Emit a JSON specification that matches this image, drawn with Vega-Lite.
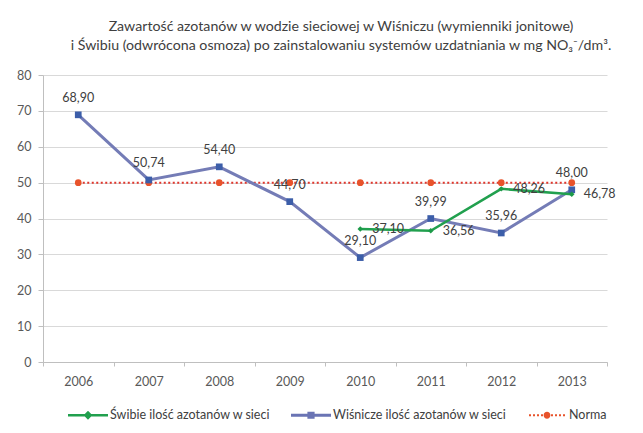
{
  "$schema": "https://vega.github.io/schema/vega-lite/v6.json",
  "width": 564,
  "height": 287,
  "autosize": "none",
  "padding": {"left": 43, "top": 75, "right": 36, "bottom": 71},
  "background": "white",
  "title": {
    "text": ["Zawartość azotanów w wodzie sieciowej w Wiśniczu (wymienniki jonitowe)", "i Świbiu (odwrócona osmoza) po zainstalowaniu systemów uzdatniania w mg NO₃⁻/dm³."],
    "font": "Lato",
    "fontSize": 14.2,
    "fontWeight": "normal",
    "color": "#404040",
    "anchor": "middle",
    "dx": 16,
    "offset": 16,
    "lineHeight": 19
  },
  "data": {
    "values": [
      {"year": "2006", "series": "Wiśnicze ilość azotanów w sieci", "value": 68.90},
      {"year": "2007", "series": "Wiśnicze ilość azotanów w sieci", "value": 50.74},
      {"year": "2008", "series": "Wiśnicze ilość azotanów w sieci", "value": 54.40},
      {"year": "2009", "series": "Wiśnicze ilość azotanów w sieci", "value": 44.70},
      {"year": "2010", "series": "Wiśnicze ilość azotanów w sieci", "value": 29.10},
      {"year": "2011", "series": "Wiśnicze ilość azotanów w sieci", "value": 39.99},
      {"year": "2012", "series": "Wiśnicze ilość azotanów w sieci", "value": 35.96},
      {"year": "2013", "series": "Wiśnicze ilość azotanów w sieci", "value": 48.00},
      {"year": "2010", "series": "Świbie ilość azotanów w sieci", "value": 37.10},
      {"year": "2011", "series": "Świbie ilość azotanów w sieci", "value": 36.56},
      {"year": "2012", "series": "Świbie ilość azotanów w sieci", "value": 48.26},
      {"year": "2013", "series": "Świbie ilość azotanów w sieci", "value": 46.78},
      {"year": "2006", "series": "Norma", "value": 50},
      {"year": "2007", "series": "Norma", "value": 50},
      {"year": "2008", "series": "Norma", "value": 50},
      {"year": "2009", "series": "Norma", "value": 50},
      {"year": "2010", "series": "Norma", "value": 50},
      {"year": "2011", "series": "Norma", "value": 50},
      {"year": "2012", "series": "Norma", "value": 50},
      {"year": "2013", "series": "Norma", "value": 50}
    ]
  },
  "encoding": {
    "x": {
      "field": "year",
      "type": "ordinal",
      "scale": {"type": "band", "paddingInner": 0, "paddingOuter": 0},
      "axis": {
        "title": null,
        "labelAngle": 0,
        "tickBand": "extent",
        "domainColor": "#bfbfbf",
        "tickColor": "#bfbfbf",
        "tickSize": 4,
        "labelPadding": 9,
        "labelFont": "Lato",
        "labelFontSize": 12.5,
        "labelColor": "#595959"
      }
    },
    "y": {
      "field": "value",
      "type": "quantitative",
      "scale": {"domain": [0, 80], "nice": false},
      "axis": {
        "title": null,
        "values": [0, 10, 20, 30, 40, 50, 60, 70, 80],
        "domainColor": "#bfbfbf",
        "tickColor": "#bfbfbf",
        "gridColor": "#d9d9d9",
        "tickSize": 5,
        "labelPadding": 7,
        "labelFont": "Lato",
        "labelFontSize": 12.5,
        "labelColor": "#595959"
      }
    }
  },
  "layer": [
    {
      "transform": [{"filter": "datum.series === 'Norma'"}],
      "mark": {"type": "line", "color": "#e0352b", "strokeWidth": 2, "strokeDash": [2, 2.5]}
    },
    {
      "transform": [{"filter": "datum.series === 'Norma'"}],
      "mark": {"type": "point", "shape": "circle", "filled": true, "color": "#e8532b", "opacity": 1, "size": 45}
    },
    {
      "transform": [{"filter": "datum.series === 'Wiśnicze ilość azotanów w sieci'"}],
      "mark": {"type": "line", "color": "#747cb6", "strokeWidth": 3}
    },
    {
      "transform": [{"filter": "datum.series === 'Wiśnicze ilość azotanów w sieci'"}],
      "mark": {"type": "point", "shape": "square", "filled": true, "color": "#3c5ea9", "opacity": 1, "size": 45}
    },
    {
      "transform": [{"filter": "datum.series === 'Świbie ilość azotanów w sieci'"}],
      "mark": {"type": "line", "color": "#21a04e", "strokeWidth": 2.5}
    },
    {
      "transform": [{"filter": "datum.series === 'Świbie ilość azotanów w sieci'"}],
      "mark": {"type": "point", "shape": "diamond", "filled": true, "color": "#1c9a48", "opacity": 1, "size": 30}
    },
    {
      "transform": [{"filter": "datum.series === 'Wiśnicze ilość azotanów w sieci'"}],
      "mark": {"type": "text", "dy": -17, "font": "Lato", "fontSize": 12.5, "color": "#404040"},
      "encoding": {"text": {"field": "value", "type": "quantitative", "format": ".2f"}}
    },
    {
      "transform": [{"filter": "datum.series === 'Świbie ilość azotanów w sieci'"}],
      "mark": {"type": "text", "align": "left", "dx": 12, "dy": 0, "font": "Lato", "fontSize": 12.5, "color": "#404040"},
      "encoding": {"text": {"field": "value", "type": "quantitative", "format": ".2f"}}
    },
    {
      "mark": {"type": "point", "filled": true, "fillOpacity": 0, "strokeOpacity": 0},
      "encoding": {
        "color": {
          "field": "series",
          "type": "nominal",
          "scale": {
            "domain": ["Świbie ilość azotanów w sieci", "Wiśnicze ilość azotanów w sieci", "Norma"],
            "range": ["#21a04e", "#6a74b4", "#e8532b"]
          },
          "legend": {
            "title": null,
            "orient": "none",
            "legendX": 25,
            "legendY": 320,
            "direction": "horizontal",
            "symbolSize": 1600,
            "symbolOpacity": 1,
            "symbolStrokeWidth": 0,
            "labelFont": "Lato",
            "labelFontSize": 12.5,
            "labelColor": "#404040",
            "labelOffset": 2,
            "labelLimit": 0,
            "columnPadding": 20
          }
        },
        "shape": {
          "field": "series",
          "type": "nominal",
          "scale": {
            "domain": ["Świbie ilość azotanów w sieci", "Wiśnicze ilość azotanów w sieci", "Norma"],
            "range": [
              "M-1,-0.06H1V0.06H-1Z M0,-0.22L0.22,0L0,0.22L-0.22,0Z",
              "M-1,-0.08H1V0.08H-1Z M-0.18,-0.18H0.18V0.18H-0.18Z",
              "M-0.9,-0.05h0.1v0.1h-0.1Z M-0.7,-0.05h0.1v0.1h-0.1Z M-0.5,-0.05h0.1v0.1h-0.1Z M-0.3,-0.05h0.1v0.1h-0.1Z M0.2,-0.05h0.1v0.1h-0.1Z M0.4,-0.05h0.1v0.1h-0.1Z M0.6,-0.05h0.1v0.1h-0.1Z M0.8,-0.05h0.1v0.1h-0.1Z M0.17,0A0.17,0.17 0 1 1 -0.17,0A0.17,0.17 0 1 1 0.17,0Z"
            ]
          },
          "legend": null
        }
      }
    }
  ],
  "config": {
    "locale": {
      "number": {"decimal": ",", "thousands": " ", "grouping": [3], "currency": ["", " zł"]}
    },
    "view": {"stroke": null}
  }
}
